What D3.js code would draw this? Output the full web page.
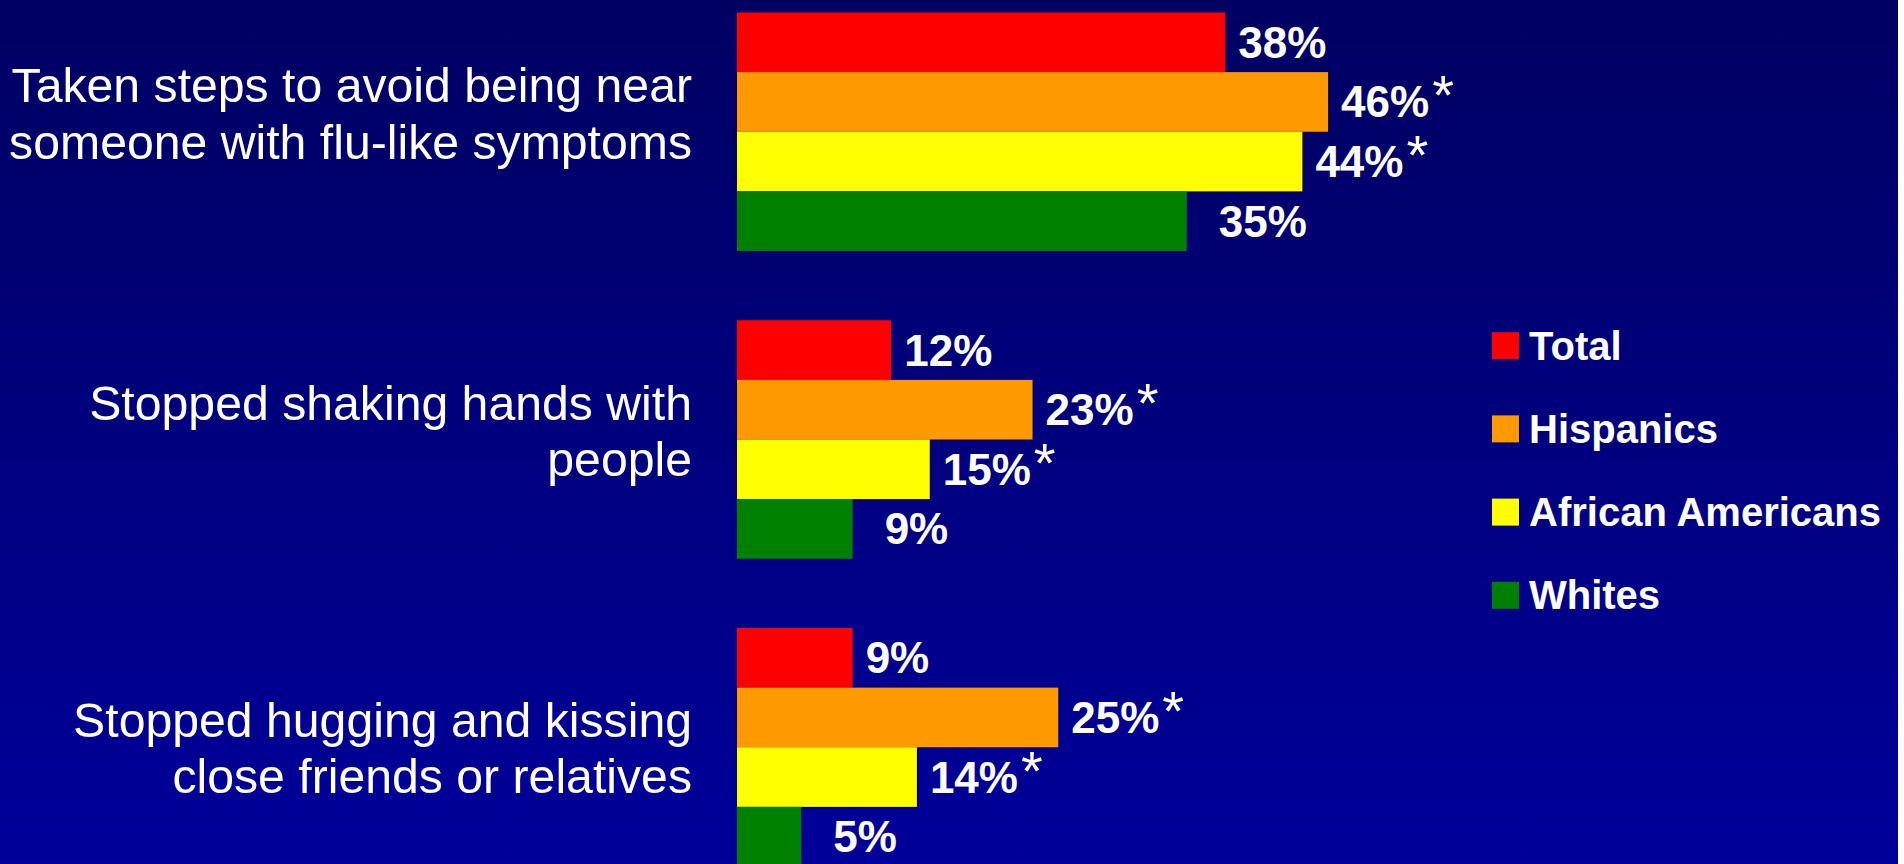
<!DOCTYPE html>
<html>
<head>
<meta charset="utf-8">
<script src="https://cdn.jsdelivr.net/npm/d3@7"></script>
<style>
  html, body { margin: 0; padding: 0; background: #ffffff; overflow: hidden; }
  svg { display: block; }
</style>
</head>
<body>
<svg id="chart" width="1904" height="864"></svg>
<script>
// ---- data ----
const categories = ["avoid", "handshake", "hugging"];
const categoryLines = [
  ["Taken steps to avoid being near", "someone with flu-like symptoms"],
  ["Stopped shaking hands with", "people"],
  ["Stopped hugging and kissing", "close friends or relatives"]
];
const seriesNames = ["Total", "Hispanics", "African Americans", "Whites"];
const totalValues    = [38, 12, 9];
const hispanicValues = [46, 23, 25];
const africanValues  = [44, 15, 14];
const whiteValues    = [35, 9, 5];
const totalMarks    = ["", "", ""];
const hispanicMarks = ["*", "*", "*"];
const africanMarks  = ["*", "*", "*"];
const whiteMarks    = ["", "", ""];
const seriesColors = ["#ff0000", "#ff9900", "#ffff00", "#008000"];

const seriesValues = [totalValues, hispanicValues, africanValues, whiteValues];
const seriesMarks  = [totalMarks, hispanicMarks, africanMarks, whiteMarks];

const rows = [];
categories.forEach((c, ci) => {
  seriesNames.forEach((s, si) => {
    rows.push({ cat: c, series: s, si, value: seriesValues[si][ci], mark: seriesMarks[si][ci] });
  });
});

// ---- layout ----
const W = 1904, H = 864;
const svg = d3.select("#chart");
const defs = svg.append("defs");
const grad = defs.append("linearGradient").attr("id", "bg")
  .attr("x1", 0).attr("y1", 0).attr("x2", 0).attr("y2", 1);
grad.append("stop").attr("offset", "0%").attr("stop-color", "#000062");
grad.append("stop").attr("offset", "100%").attr("stop-color", "#00009a");

svg.append("rect").attr("x", 0).attr("y", 0).attr("width", 1898).attr("height", H)
  .attr("fill", "url(#bg)");

const x = d3.scaleLinear().domain([0, 50]).range([737, 1379.5]);
const y = d3.scaleBand().domain(categories).range([12.5, 866.5]).paddingInner(0.225).paddingOuter(0);
const ySub = d3.scaleBand().domain(seriesNames).range([0, y.bandwidth()]).padding(0);
const color = d3.scaleOrdinal().domain(seriesNames).range(seriesColors);

// bars
svg.append("g").selectAll("rect").data(rows).join("rect")
  .attr("x", x(0))
  .attr("y", d => y(d.cat) + ySub(d.series))
  .attr("width", d => x(d.value) - x(0))
  .attr("height", ySub.bandwidth())
  .attr("fill", d => color(d.series));

// value labels
const lbl = svg.append("g").selectAll("text").data(rows).join("text")
  .attr("x", d => x(d.value) + (d.series === "Whites" ? 32 : 13))
  .attr("y", d => y(d.cat) + ySub(d.series) + ySub.bandwidth() / 2 + 15.5)
  .attr("fill", "#ffffff")
  .attr("font-family", "'Liberation Sans', Arial, sans-serif")
  .attr("font-weight", "bold")
  .attr("font-size", 44);
lbl.append("tspan").text(d => d.value + "%");
lbl.filter(d => d.mark).append("tspan")
  .attr("dx", 3)
  .attr("dy", -3)
  .attr("font-weight", "normal")
  .attr("font-size", 56)
  .text(d => d.mark);

// category labels
const yLab = d3.scalePoint().domain(categories).range([130.5, 765]);
const catG = svg.append("g").selectAll("text").data(categories).join("text")
  .attr("text-anchor", "end")
  .attr("fill", "#ffffff")
  .attr("font-family", "'Liberation Sans', Arial, sans-serif")
  .attr("font-size", 48.2);
catG.each(function(c, i) {
  const lines = categoryLines[i];
  const t = d3.select(this);
  lines.forEach((ln, li) => {
    t.append("tspan")
      .attr("x", 692)
      .attr("y", yLab(c) + (li - (lines.length - 1) / 2) * 56.5)
      .text(ln);
  });
});

// legend
const yLeg = d3.scalePoint().domain(seriesNames).range([345.7, 595.3]);
const leg = svg.append("g").selectAll("g").data(seriesNames).join("g")
  .attr("transform", d => `translate(1492,${yLeg(d)})`);
leg.append("rect").attr("x", 0).attr("y", -13.5).attr("width", 27).attr("height", 27)
  .attr("fill", d => color(d));
leg.append("text").attr("x", 37).attr("y", 14)
  .attr("fill", "#ffffff")
  .attr("font-family", "'Liberation Sans', Arial, sans-serif")
  .attr("font-weight", "bold")
  .attr("font-size", 40)
  .text(d => d);
</script>
</body>
</html>
